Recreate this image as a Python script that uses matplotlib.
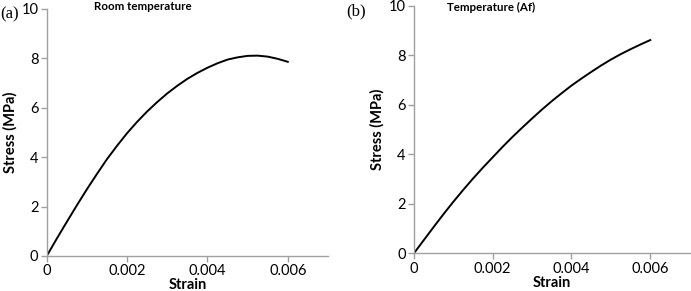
import matplotlib.pyplot as plt
import numpy as np

# strain / stress
strain = [0, 0.00025, 0.0005, 0.00075, 0.001, 0.00125, 0.0015, 0.00175,
          0.002, 0.00225, 0.0025, 0.00275, 0.003, 0.00325, 0.0035, 0.00375,
          0.004, 0.00425, 0.0045, 0.00475, 0.005, 0.00525, 0.0055, 0.00575,
          0.006]
stress_room = [0, 0.70, 1.38, 2.05, 2.70, 3.32, 3.92, 4.46,
               4.97, 5.43, 5.85, 6.23, 6.58, 6.89, 7.17, 7.41,
               7.62, 7.80, 7.95, 8.04, 8.10, 8.11, 8.07, 7.98,
               7.86]
stress_af = [0, 0.53, 1.06, 1.58, 2.08, 2.56, 3.02, 3.46,
             3.88, 4.30, 4.70, 5.08, 5.45, 5.81, 6.15, 6.47,
             6.78, 7.06, 7.33, 7.59, 7.83, 8.05, 8.25, 8.44,
             8.62]

xticks = [0, 0.002, 0.004, 0.006]
xticklabels = ['0', '0.002', '0.004', '0.006']
yticks = [0, 2, 4, 6, 8, 10]

plt.rcParams['font.family'] = ['Lato', 'DejaVu Sans']
grey = '#a0a0a0'

fig = plt.figure(figsize=(6.91, 2.91), dpi=100)
ax1 = fig.add_axes([0.0676, 0.1203, 0.407, 0.849])
ax2 = fig.add_axes([0.599, 0.1296, 0.399, 0.850])

panels = [(ax1, stress_room), (ax2, stress_af)]

for ax, ys in panels:
    ax.plot(strain, ys, color='black', lw=1.4)
    ax.set_xlim(0, 0.007)
    ax.set_ylim(0, 10)
    ax.set_xticks(xticks)
    ax.set_xticklabels(xticklabels)
    ax.set_yticks(yticks)
    for s in ['top', 'right']:
        ax.spines[s].set_visible(False)
    for s in ['left', 'bottom']:
        ax.spines[s].set_color(grey)
        ax.spines[s].set_linewidth(1.0)
    ax.tick_params(direction='out', length=4, width=1.0, color=grey,
                   labelsize=10.5, labelcolor='black', pad=2)
    ax.set_xlabel('Strain', fontsize=10.5, fontweight='bold', labelpad=0)
    ax.set_ylabel('Stress (MPa)', fontsize=10.5, fontweight='bold', labelpad=3)

fig.text(143 / 691, 1 - 7 / 291, 'Room temperature', fontsize=8.3,
         fontweight='bold', ha='center', va='center')
fig.text(491 / 691, 1 - 7 / 291, 'Temperature (Af)', fontsize=8.3,
         fontweight='bold', ha='center', va='center')
fig.text(0 / 691, 1 - 14 / 291, '(a)', fontsize=12,
         family='Liberation Serif', ha='left', va='center')
fig.text(346 / 691, 1 - 11 / 291, '(b)', fontsize=12,
         family='Liberation Serif', ha='left', va='center')

fig.savefig('out.png', dpi=100)
